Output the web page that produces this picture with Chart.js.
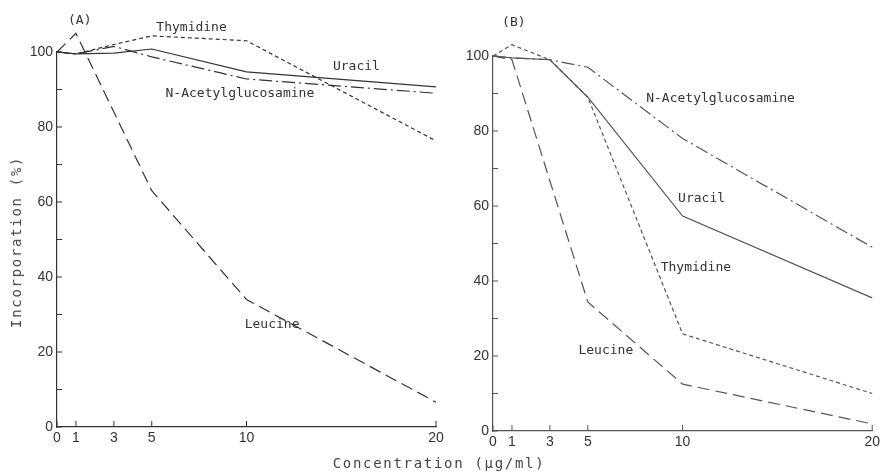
<!DOCTYPE html>
<html>
<head>
<meta charset="utf-8">
<script src="https://cdn.jsdelivr.net/npm/chart.js@4.4.0/dist/chart.umd.min.js"></script>
<style>
  body { margin: 0; background: #fff; width: 883px; height: 473px; position: relative; overflow: hidden; }
  canvas { position: absolute; top: 0; }
  #chartA { left: 0; }
  #chartB { left: 450px; }
  .title { position: absolute; font-family: "DejaVu Sans Mono", monospace; font-size: 14px; color: #444; white-space: nowrap; letter-spacing: 1.7px; }
  #ytitle { left: 16px; top: 242px; transform: translate(-50%, -50%) rotate(-90deg); }
  #xtitle { left: 439px; top: 463px; transform: translate(-50%, -50%); }
</style>
</head>
<body>
<canvas id="chartA" width="450" height="473"></canvas>
<canvas id="chartB" width="433" height="473"></canvas>
<div class="title" id="ytitle">Incorporation (%)</div>
<div class="title" id="xtitle">Concentration (μg/ml)</div>
<script>
// Concentrations (ug/ml) and tick values
const concentrations = [0, 1, 3, 5, 10, 20];
const xTicks = [0, 1, 3, 5, 10, 20];
const yTicks = [0, 10, 20, 30, 40, 50, 60, 70, 80, 90, 100];

// Panel (A) values, % incorporation
const thymidineA = [100, 99.5, 102, 104.3, 103, 76.3];
const uracilA = [100, 99.5, 99.7, 100.8, 94.7, 90.7];
const acetylA = [100, 99.5, 101.5, 98.7, 92.8, 89];
const leucineA = [100, 105, null, 63, 34, 6.6];

// Panel (B) values, % incorporation
const thymidineB = [100, 103, 99, 89, 25.9, 10];
const uracilB = [100, 99.5, 99, 89, 57.3, 35.5];
const acetylB = [100, 99.5, 99, 97, 78, 49];
const leucineB = [100, 99, null, 34.4, 12.5, 1.9];

// Text labels placed in data coordinates
const notesA = [
    ["(A)", 1.2, 108.5],
    ["Thymidine", 7.1, 106.6],
    ["Uracil", 15.8, 96],
    ["N-Acetylglucosamine", 9.65, 88.8],
    ["Leucine", 11.35, 27.2]
];
const notesB = [
    ["(B)", 1.1, 109],
    ["N-Acetylglucosamine", 12.0, 88.6],
    ["Uracil", 11.0, 62.1],
    ["Thymidine", 10.7, 43.5],
    ["Leucine", 5.95, 21.4]
];

// Draws inward tick marks and the text labels
const extrasPlugin = {
    id: "extras",
    afterDraw(chart, args, opts) {
        const ctx = chart.ctx;
        const xs = chart.scales.x, ys = chart.scales.y;
        const area = chart.chartArea;
        ctx.save();
        ctx.strokeStyle = opts.color;
        ctx.lineWidth = 1;
        ctx.beginPath();
        yTicks.forEach(v => {
            const py = ys.getPixelForValue(v);
            ctx.moveTo(area.left, py);
            ctx.lineTo(area.left + 5, py);
        });
        xTicks.forEach(v => {
            const px = xs.getPixelForValue(v);
            ctx.moveTo(px, area.bottom);
            ctx.lineTo(px, area.bottom - 6);
        });
        ctx.stroke();
        ctx.fillStyle = "#333";
        ctx.font = "13px 'DejaVu Sans Mono'";
        ctx.textAlign = "center";
        ctx.textBaseline = "middle";
        opts.notes.forEach(n => {
            ctx.fillText(n[0], xs.getPixelForValue(n[1]), ys.getPixelForValue(n[2]));
        });
        ctx.restore();
    }
};

function makeSet(label, data, color, dash) {
    return {
        label: label,
        data: data,
        borderColor: color,
        borderWidth: 1.2,
        borderDash: dash,
        pointRadius: 0,
        fill: false,
        spanGaps: true,
        clip: false,
        tension: 0
    };
}

function makeChart(id, sets, notes, color, padding) {
    return new Chart(document.getElementById(id), {
        type: "line",
        data: {
            labels: concentrations,
            datasets: [
                makeSet("Thymidine", sets[0].map((y, i) => ({ x: concentrations[i], y: y })), color, [4, 3]),
                makeSet("Uracil", sets[1].map((y, i) => ({ x: concentrations[i], y: y })), color, []),
                makeSet("N-Acetylglucosamine", sets[2].map((y, i) => ({ x: concentrations[i], y: y })), color, [13, 4, 2, 4]),
                makeSet("Leucine", sets[3].map((y, i) => ({ x: concentrations[i], y: y })), color, [12, 6])
            ]
        },
        options: {
            responsive: false,
            animation: false,
            layout: { padding: padding },
            plugins: {
                legend: { display: false },
                tooltip: { enabled: false },
                extras: { notes: notes, color: color }
            },
            scales: {
                x: {
                    type: "linear",
                    min: 0,
                    max: 20,
                    afterBuildTicks: s => { s.ticks = xTicks.map(v => ({ value: v })); },
                    afterFit: s => { s.height = 30; },
                    grid: { drawOnChartArea: false, drawTicks: false },
                    border: { display: true, color: color, width: 1.2 },
                    ticks: {
                        padding: 3,
                        maxRotation: 0,
                        autoSkip: false,
                        color: "#333",
                        font: { family: "Liberation Sans", size: 14 }
                    }
                },
                y: {
                    min: 0,
                    max: 100,
                    afterBuildTicks: s => { s.ticks = yTicks.map(v => ({ value: v })); },
                    afterFit: s => { s.width = padding.yw; },
                    grid: { drawOnChartArea: false, drawTicks: false },
                    border: { display: true, color: color, width: 1.2 },
                    ticks: {
                        padding: 4,
                        autoSkip: false,
                        color: "#333",
                        font: { family: "Liberation Sans", size: 14 },
                        callback: v => (v % 20 === 0 ? v : "")
                    }
                }
            }
        },
        plugins: [extrasPlugin]
    });
}

makeChart("chartA", [thymidineA, uracilA, acetylA, leucineA], notesA, "#333",
    { left: 0, right: 14, top: 52, bottom: 16, yw: 57 });
makeChart("chartB", [thymidineB, uracilB, acetylB, leucineB], notesB, "#555",
    { left: 0, right: 8, top: 56, bottom: 12, yw: 43 });
</script>
</body>
</html>
